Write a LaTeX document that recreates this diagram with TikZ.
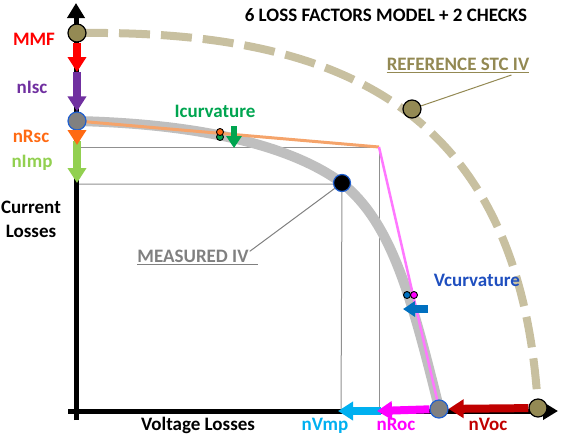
\documentclass[tikz,border=0pt]{standalone}
\usepackage{fontspec}
\setmainfont{Carlito}
\usetikzlibrary{arrows.meta}
\definecolor{mmfred}{HTML}{FF0000}
\definecolor{iscpurple}{HTML}{7030A0}
\definecolor{rscorange}{HTML}{FF6A13}
\definecolor{impgreen}{HTML}{92D050}
\definecolor{icurvgreen}{HTML}{00A550}
\definecolor{vcurvblue}{HTML}{0070C0}
\definecolor{vcurvtext}{HTML}{1F4FBF}
\definecolor{vmpcyan}{HTML}{00B0F0}
\definecolor{rocmag}{HTML}{FF00FF}
\definecolor{vocred}{HTML}{C00000}
\definecolor{reftan}{HTML}{C8C0A0}
\definecolor{refolive}{HTML}{948A54}
\definecolor{reftext}{HTML}{938953}
\definecolor{measgray}{HTML}{BFBFBF}
\definecolor{meastext}{HTML}{808080}
\definecolor{gridgray}{HTML}{909090}
\definecolor{orangeline}{HTML}{F5A46B}
\definecolor{pinkline}{HTML}{FF77FF}
\definecolor{ringblue}{HTML}{1F5FCF}
\begin{document}
\begin{tikzpicture}[x=1pt,y=-1pt,
  lbl/.style={font=\fontsize{19}{22}\selectfont\bfseries, inner sep=0pt, anchor=base},
  fat/.style={line width=8pt, -{Triangle[length=15pt,width=18pt]}},
  small/.style={line width=6pt, -{Triangle[length=12pt,width=15pt]}},
  axis/.style={line width=5pt, black, -{Triangle[length=15pt,width=17pt]}},
  olivedot/.style={circle, draw=black, line width=1.2pt, fill=refolive, minimum size=18pt, inner sep=0pt},
  graydot/.style={circle, draw=ringblue, line width=1.2pt, fill=gray, minimum size=18pt, inner sep=0pt},
  tinydot/.style={circle, draw=black, line width=0.9pt, minimum size=7pt, inner sep=0pt},
  grid/.style={gridgray, line width=1pt},
]
\useasboundingbox (0,0) rectangle (567,437);

% named points
\coordinate (yaxbot) at (76,420);
\coordinate (yaxtop) at (76,3);
\coordinate (xaxleft) at (68,411);
\coordinate (xaxright) at (558,411);
\coordinate (mmfend) at (77,72);
\coordinate (rscend) at (77,145);
\coordinate (impstart) at (77,141);
\coordinate (impend) at (77,183);
\coordinate (knee) at (379,147);
\coordinate (h1l) at (77,147);
\coordinate (h2l) at (77,184);
\coordinate (v1b) at (379,411);
\coordinate (v2b) at (341,411);
\coordinate (rocend) at (377,411);
\coordinate (vmpstart) at (381,411);
\coordinate (vmpend) at (338,411);
\coordinate (icstart) at (234,126);
\coordinate (icend) at (234,148);
\coordinate (vcstart) at (428,309);
\coordinate (vcend) at (403,309);

% reference STC IV (dashed)
\draw[reftan, line width=8pt, dash pattern=on 31pt off 11pt]
  (77,33) .. controls (330,30) and (520,100) .. (538,408);

% grid lines
\draw[grid] (h1l) -- (knee) -- (v1b);
\draw[grid] (h2l) -- (342,184) -- (v2b);

% measured IV curve
\draw[measgray, line width=10pt]
  (77,121) .. controls (200,124) and (290,145) .. (342,183)
  .. controls (390,222) and (410,290) .. (439,408);

% checks lines
\draw[orangeline, line width=3pt] (77,121) -- (knee);
\draw[pinkline, line width=2.5pt] (knee) -- (439,408);

% axes
\draw[axis] (yaxbot) -- (yaxtop);
\draw[axis] (xaxleft) -- (xaxright);

% key points
\node[olivedot] (refisc) at (77,33) {};
\node[olivedot] (refmid) at (412,109) {};
\node[olivedot] (refvoc) at (538,408) {};
\node[graydot] (iscpt) at (77,121) {};
\node[graydot] (vocpt) at (439,409) {};
\node[circle, draw=ringblue, line width=1.2pt, fill=black, minimum size=17pt, inner sep=0pt] (mpp) at (342,183) {};

% loss arrows on current axis
\draw[fat, mmfred] (refisc) -- (mmfend);
\draw[fat, iscpurple] (mmfend) -- (iscpt);
\draw[fat, impgreen] (impstart) -- (impend);
\draw[fat, rscorange] (iscpt) -- (rscend);

% loss arrows on voltage axis
\draw[fat, vocred] (refvoc) -- (vocpt);
\draw[fat, vmpcyan] (vmpstart) -- (vmpend);
\draw[fat, rocmag] (vocpt) -- (rocend);

% curvature checks
\node[tinydot, fill=icurvgreen] (icg) at (220,137) {};
\node[tinydot, fill=rscorange] (ico) at (220,132) {};
\draw[small, icurvgreen] (icstart) -- (icend);
\node[tinydot, fill=vcurvblue] (vcb) at (407,295) {};
\node[tinydot, fill=rocmag] (vcm) at (414,295) {};
\draw[small, vcurvblue, line width=8pt] (vcstart) -- (vcend);

% labels
\node[lbl] (title) at (386,21) {6 LOSS FACTORS MODEL + 2 CHECKS};
\node[lbl, mmfred] (lmmf) at (34,45) {MMF};
\node[lbl, iscpurple] (lisc) at (32,93) {nIsc};
\node[lbl, rscorange] (lrsc) at (31,142) {nRsc};
\node[lbl, impgreen] (limp) at (32,167) {nImp};
\node[lbl] (lcur) at (31,213) {Current};
\node[lbl] (lcur2) at (31,237) {Losses};
\node[lbl] (lvolt) at (198,430) {Voltage Losses};
\node[lbl, vmpcyan] (lvmp) at (325,430) {nVmp};
\node[lbl, rocmag] (lroc) at (396,430) {nRoc};
\node[lbl, vocred] (lvoc) at (488,430) {nVoc};
\node[lbl, icurvgreen] (lic) at (215,117) {Icurvature};
\node[lbl, vcurvtext] (lvc) at (477,286) {Vcurvature};
\node[lbl, meastext] (lmeas) at (193,262) {MEASURED IV};
\node[lbl, reftext] (lref) at (458,70) {REFERENCE STC IV};

% underlines and leaders
\draw[meastext, line width=1.5pt] ([yshift=-2.5pt]lmeas.base west) -- ([xshift=9pt,yshift=-2.5pt]lmeas.base east);
\draw[meastext, line width=1pt] ([xshift=1pt,yshift=-2pt]lmeas.north east) -- (mpp);
\draw[reftext, line width=1.5pt] ([yshift=-2.5pt]lref.base west) -- ([yshift=-2.5pt]lref.base east);
\draw[reftext, line width=1pt] ([xshift=-18pt,yshift=-5pt]lref.base east) -- (refmid);
\end{tikzpicture}
\end{document}
